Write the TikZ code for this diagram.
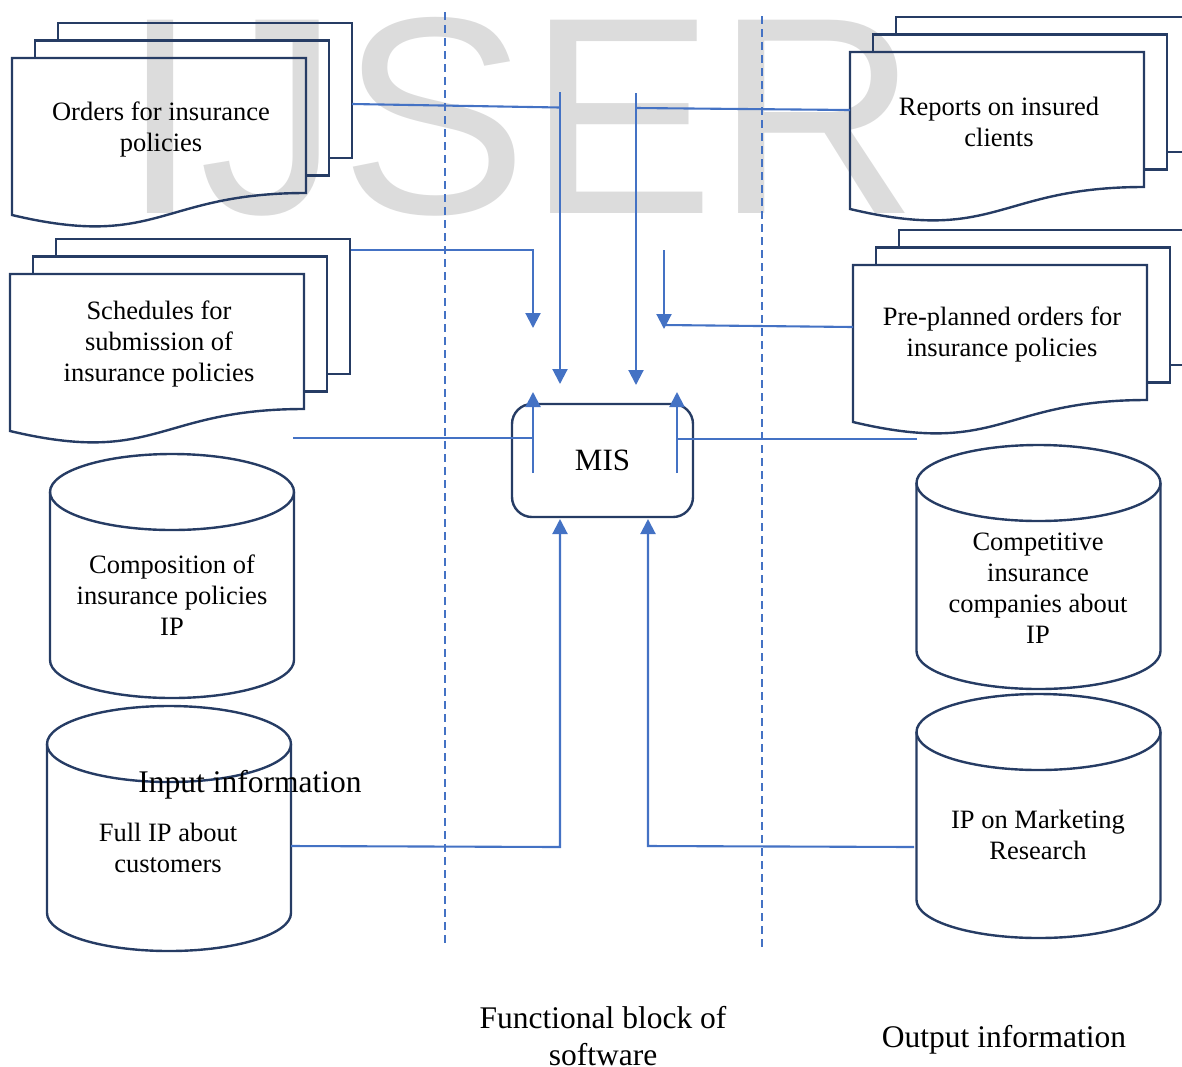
\documentclass[tikz,border=0pt]{standalone}
\usepackage{fontspec}
\setmainfont{Liberation Serif}
\newfontfamily\wmfamily{Liberation Sans}
\usetikzlibrary{arrows.meta}
\definecolor{navy}{RGB}{38,60,100}
\definecolor{cblue}{RGB}{68,114,196}
\definecolor{wmgray}{RGB}{220,220,220}
\tikzset{
 shp/.style={draw=navy, line width=2.4pt},
 conn/.style={draw=cblue, line width=2.1pt},
 arr/.style={-{Triangle[width=15pt,length=15pt]}},
 dashline/.style={draw=cblue, line width=1.4pt, dash pattern=on 8pt off 5pt},
 txt/.style={align=center, font=\fontsize{26.5}{31}\selectfont, inner sep=0pt},
 lbl/.style={align=center, font=\fontsize{31.5}{37}\selectfont, inner sep=0pt},
}
% multi-document stack: #1,#2 = top-left of front sheet
\newcommand\docstack[2]{%
  \draw[shp] ({#1+46},{#2-17.5}) -- ({#1+46},{#2-35}) -- ({#1+340},{#2-35}) -- ({#1+340},{#2+100}) -- ({#1+317},{#2+100});
  \draw[shp] ({#1+23},{#2}) -- ({#1+23},{#2-17.5}) -- ({#1+317},{#2-17.5}) -- ({#1+317},{#2+117.5}) -- ({#1+294},{#2+117.5});
  \draw[shp] (#1,#2) -- ({#1+294},#2) -- ({#1+294},{#2+135}) .. controls ({#1+147},{#2+135}) and ({#1+147},{#2+192}) .. (#1,{#2+157}) -- cycle;
}
% cylinder: #1 = centre x, #2 = top ellipse centre y, #3 = bottom ellipse centre y
\newcommand\cylshape[3]{%
  \draw[shp] (#1,#2) ellipse [x radius=122pt, y radius=38pt];
  \draw[shp] ({#1-122},#2) -- ({#1-122},#3) .. controls ({#1-122},{#3+21}) and ({#1-67.4},{#3+38}) .. (#1,{#3+38}) .. controls ({#1+67.4},{#3+38}) and ({#1+122},{#3+21}) .. ({#1+122},#3) -- ({#1+122},#2);
}
\begin{document}
\begin{tikzpicture}[x=1pt,y=-1pt]
\useasboundingbox (0,0) rectangle (1182,1066);
% watermark
\node[anchor=base west, inner sep=0pt, text=wmgray, font=\wmfamily\fontsize{281}{281}\selectfont] (wm) at (121.6,213) {IJSER};

% dashed separators
\coordinate (d1t) at (445,12); \coordinate (d1b) at (445,943);
\coordinate (d2t) at (762,16); \coordinate (d2b) at (762,950);
\draw[dashline] (d1t) -- (d1b);
\draw[dashline] (d2t) -- (d2b);

% document stacks
\docstack{12}{58}
\docstack{10}{274}
\docstack{850}{52}
\docstack{853}{265}
\node[txt] (orders) at (161,129) {Orders for insurance\\policies};
\node[txt] (sched) at (159,344) {Schedules for\\submission of\\insurance policies};
\node[txt] (reports) at (999,121.5) {Reports on insured\\clients};
\node[txt] (preplan) at (1002,334.5) {Pre-planned orders for\\insurance policies};

% cylinders
\cylshape{172}{492}{660}
\cylshape{169}{744}{913}
\cylshape{1038.5}{483}{651}
\cylshape{1038.5}{732}{900}
\node[txt] (compos) at (172,595) {Composition of\\insurance policies\\IP};
\node[txt] (fullip) at (168,847.5) {Full IP about\\customers};
\node[txt] (compet) at (1038,588) {Competitive\\insurance\\companies about\\IP};
\node[txt] (market) at (1038,834.5) {IP on Marketing\\Research};

% MIS
\node[shp, rounded corners=20pt, minimum width=181pt, minimum height=113pt, inner sep=0pt, font=\fontsize{31}{31}\selectfont] (mis) at (602.5,460.5) {MIS};

% connector anchor points
\coordinate (ordR) at (352,104);
\coordinate (j1) at (560,107.5);
\coordinate (v1t) at (560,92);
\coordinate (v1e) at (560,384);
\coordinate (schR) at (351,250);
\coordinate (j2) at (533,250);
\coordinate (v2e) at (533,328);
\coordinate (repL) at (850,110);
\coordinate (j3) at (636,108);
\coordinate (v3t) at (636,93);
\coordinate (v3e) at (636,385);
\coordinate (preL) at (853,327);
\coordinate (j4) at (664,325);
\coordinate (v4t) at (664,250);
\coordinate (v4e) at (664,329);
\coordinate (h5s) at (293,438);
\coordinate (h5e) at (533,438);
\coordinate (v5s) at (533,473);
\coordinate (v5e) at (533,392);
\coordinate (h6s) at (917,439);
\coordinate (h6e) at (677,439);
\coordinate (v6s) at (677,473);
\coordinate (v6e) at (677,392);
\coordinate (fullR) at (291,846);
\coordinate (j7) at (560,847);
\coordinate (v7e) at (560,519);
\coordinate (mktL) at (914,847);
\coordinate (j8) at (648,846);
\coordinate (v8e) at (648,519);

\draw[conn] (ordR) -- (j1);
\draw[conn,arr] (v1t) -- (v1e);
\draw[conn,arr] (schR) -- (j2) -- (v2e);
\draw[conn] (repL) -- (j3);
\draw[conn,arr] (v3t) -- (v3e);
\draw[conn] (preL) -- (j4);
\draw[conn,arr] (v4t) -- (v4e);
\draw[conn] (h5s) -- (h5e);
\draw[conn,arr] (v5s) -- (v5e);
\draw[conn] (h6s) -- (h6e);
\draw[conn,arr] (v6s) -- (v6e);
\draw[conn,arr] (fullR) -- (j7) -- (v7e);
\draw[conn,arr] (mktL) -- (j8) -- (v8e);

% labels
\node[lbl] (inlbl) at (250,785) {Input information};
\node[lbl] (fnlbl) at (603,1036.5) {Functional block of\\software};
\node[lbl] (outlbl) at (1004,1040) {Output information};
\end{tikzpicture}
\end{document}
